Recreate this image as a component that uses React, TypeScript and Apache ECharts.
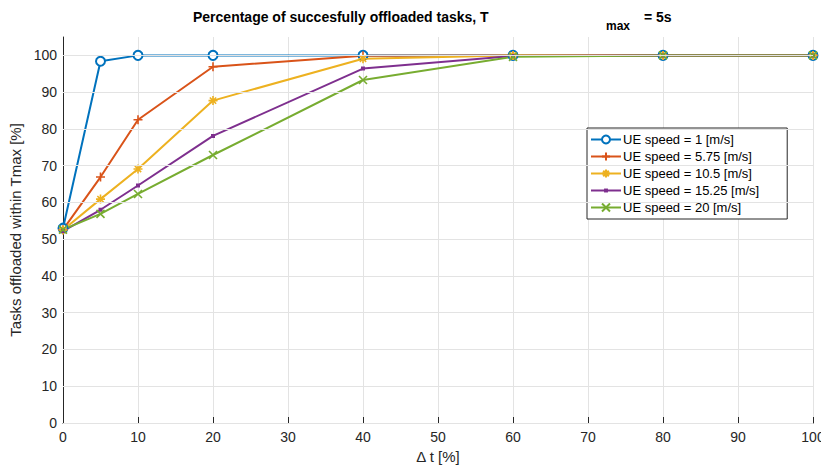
import React, { useEffect, useRef } from "react";
import * as echarts from "echarts";

const xValues = [0, 5, 10, 20, 40, 60, 80, 100];
const speed1 = [53, 98.4, 100, 100, 100, 100, 100, 100];
const speed575 = [52.6, 66.9, 82.5, 96.9, 99.9, 100, 100, 100];
const speed105 = [52.5, 60.9, 69.1, 87.7, 99.1, 100, 100, 100];
const speed1525 = [52.2, 58, 64.6, 78.1, 96.4, 99.8, 100, 100];
const speed20 = [52.6, 56.9, 62.3, 72.9, 93.3, 99.6, 100, 100];
const seriesNames = [
  "UE speed = 1 [m/s]",
  "UE speed = 5.75 [m/s]",
  "UE speed = 10.5 [m/s]",
  "UE speed = 15.25 [m/s]",
  "UE speed = 20 [m/s]",
];
const yGridValues = [0, 10, 20, 30, 40, 50, 60, 70, 80, 90, 100];
const titleMain = "Percentage of succesfully offloaded tasks, T";
const titleSub = "max";
const titleEnd = "= 5s";

const FONT = "'Liberation Sans', Arial, Helvetica, sans-serif";
const AX = "#262626";
const GRID = "#e3e3e3";
const colors = ["#0072BD", "#D95319", "#EDB120", "#7E2F8E", "#77AC30"];

const plusPath = "path://M5,0L5,10M0,5L10,5";
const xPath = "path://M0,0L10,10M0,10L10,0";
const starPath = "path://M5,0L5,10M0,5L10,5M1.5,1.5L8.5,8.5M1.5,8.5L8.5,1.5";
const dotPath = "path://M0,0M10,10M3.8,3.8L6.2,3.8L6.2,6.2L3.8,6.2Z";

export default function App() {
  const ref = useRef<HTMLDivElement>(null);
  useEffect(() => {
    if (!ref.current) return;
    const chart = echarts.init(ref.current, undefined, { renderer: "svg" });
    const datasets = [speed1, speed575, speed105, speed1525, speed20];
    const symbols = ["emptyCircle", plusPath, starPath, dotPath, xPath];
    const sizes = [9, 9, 9, 10, 8];
    const series: any[] = datasets.map((vals, i) => {
      return {
        name: seriesNames[i],
        type: "line",
        z: 3,
        data: xValues.map((x, j) => [x, vals[j]]),
        symbol: symbols[i],
        symbolSize: sizes[i],
        showAllSymbol: true,
        lineStyle: { color: colors[i], width: 2 },
        itemStyle:
          i === 0
            ? { color: colors[i], borderColor: colors[i], borderWidth: 2 }
            : { color: colors[i], borderColor: colors[i], borderWidth: 1.6 },
        emphasis: { disabled: true },
      };
    });
    series.unshift({
      type: "line",
      data: [],
      z: 1,
      silent: true,
      markLine: {
        silent: true,
        symbol: "none",
        animation: false,
        label: { show: false },
        lineStyle: { color: GRID, width: 1, type: "solid" },
        data: yGridValues.map((v) => ({ yAxis: v })),
      },
    });
    chart.setOption({
      animation: false,
      textStyle: { fontFamily: FONT },
      grid: {
        left: 63,
        right: 8,
        top: 37,
        bottom: 44,
        containLabel: false,
        outerBoundsMode: "none",
      },
      graphic: [
        {
          type: "text",
          left: 193,
          top: 10,
          style: { text: titleMain, font: `bold 14px ${FONT}`, fill: "#000" },
        },
        {
          type: "text",
          left: 606,
          top: 20,
          style: { text: titleSub, font: `bold 12px ${FONT}`, fill: "#000" },
        },
        {
          type: "text",
          left: 644,
          top: 10,
          style: { text: titleEnd, font: `bold 14px ${FONT}`, fill: "#000" },
        },
      ],
      legend: {
        orient: "vertical",
        left: 587,
        top: 128,
        padding: [4, 28, 4, 3],
        itemGap: 2,
        itemWidth: 30,
        itemHeight: 10,
        backgroundColor: "#fff",
        borderColor: AX,
        borderWidth: 1,
        borderRadius: 0,
        textStyle: {
          fontFamily: FONT,
          fontSize: 13,
          color: "#000",
          padding: [0, 0, 0, -3],
          lineHeight: 15,
        },
        data: seriesNames,
      },
      xAxis: {
        type: "value",
        min: 0,
        max: 100,
        interval: 10,
        name: "Δ t [%]",
        nameLocation: "middle",
        nameGap: 25,
        nameTextStyle: { fontFamily: FONT, fontSize: 15, color: AX },
        axisLine: { show: true, onZero: false, lineStyle: { color: AX, width: 1 } },
        axisTick: { show: true, inside: true, length: 6, lineStyle: { color: AX } },
        axisLabel: { color: AX, fontSize: 14, fontFamily: FONT, margin: 7 },
        splitLine: { show: true, lineStyle: { color: GRID, width: 1 } },
      },
      yAxis: {
        type: "value",
        min: 0,
        max: 105,
        interval: 10,
        name: "Tasks offloaded within Tmax [%]",
        nameLocation: "middle",
        nameRotate: 90,
        nameGap: 37,
        nameTextStyle: { fontFamily: FONT, fontSize: 15, color: AX },
        axisLine: { show: true, onZero: false, lineStyle: { color: AX, width: 1 } },
        axisTick: { show: true, inside: true, length: 6, lineStyle: { color: AX } },
        axisLabel: {
          color: AX,
          fontSize: 14,
          fontFamily: FONT,
          margin: 6,
          showMaxLabel: false,
          formatter: (v: number) => (v > 100 ? "" : String(v)),
        },
        splitLine: { show: false },
      },
      series,
    });
    return () => chart.dispose();
  }, []);
  return (
    <div
      ref={ref}
      style={{ position: "fixed", left: 0, top: 0, width: 821, height: 467, background: "#fff" }}
    />
  );
}
